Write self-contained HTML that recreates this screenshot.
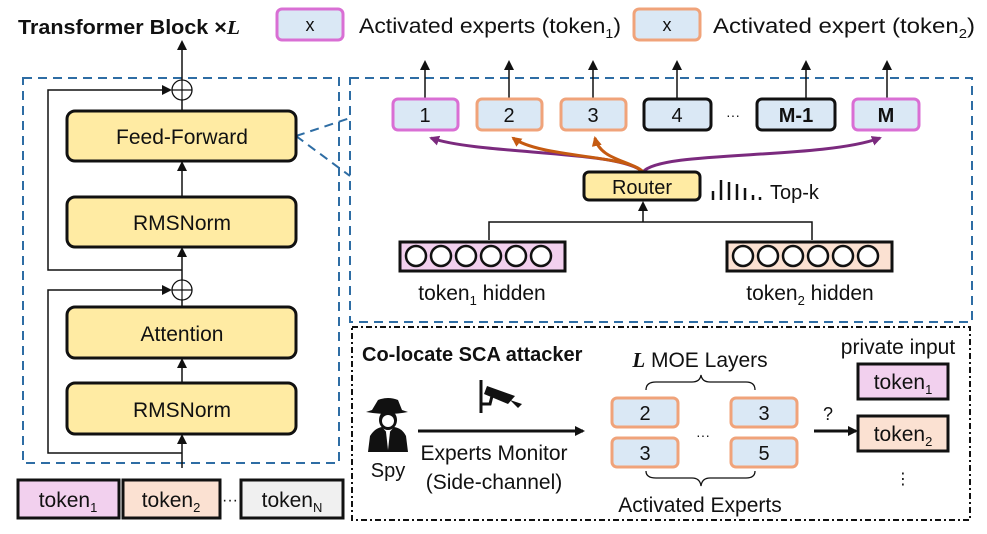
<!DOCTYPE html>
<html><head><meta charset="utf-8"><style>
html,body{margin:0;padding:0;background:#fff}
svg{display:block}
text{font-family:"Liberation Sans","DejaVu Sans",sans-serif;fill:#111}
</style></head><body>
<svg width="987" height="534" viewBox="0 0 987 534" xmlns="http://www.w3.org/2000/svg">
<defs>
<marker id="ah" markerWidth="10" markerHeight="10" refX="8" refY="5" orient="auto" markerUnits="userSpaceOnUse"><path d="M0,0 L10,5 L0,10 z" fill="#111"/></marker>
<marker id="ap" markerWidth="10" markerHeight="10" refX="8" refY="5" orient="auto" markerUnits="userSpaceOnUse"><path d="M0,0 L10,5 L0,10 z" fill="#7B2A7E"/></marker>
<marker id="ao" markerWidth="10" markerHeight="10" refX="8" refY="5" orient="auto" markerUnits="userSpaceOnUse"><path d="M0,0 L10,5 L0,10 z" fill="#C55A11"/></marker>
</defs>

<text x="18" y="34" font-size="20" font-weight="bold" textLength="222" lengthAdjust="spacingAndGlyphs">Transformer Block ×<tspan font-family="Liberation Serif" font-style="italic">L</tspan></text>

<rect x="277" y="9" width="66" height="31" rx="5" fill="#DAE8F5" stroke="#D96FD4" stroke-width="3"/>
<text x="310" y="31" font-size="18" text-anchor="middle">x</text>
<text x="359" y="33" font-size="21" textLength="262" lengthAdjust="spacingAndGlyphs">Activated experts (token<tspan font-size="13" dy="5">1</tspan><tspan dy="-5">)</tspan></text>
<rect x="634" y="9" width="66" height="31" rx="5" fill="#DAE8F5" stroke="#F0A37A" stroke-width="3"/>
<text x="667" y="31" font-size="18" text-anchor="middle">x</text>
<text x="713" y="33" font-size="21" textLength="262" lengthAdjust="spacingAndGlyphs">Activated expert (token<tspan font-size="13" dy="5">2</tspan><tspan dy="-5">)</tspan></text>

<rect x="23" y="78" width="316" height="385" fill="none" stroke="#2E6DA4" stroke-width="2" stroke-dasharray="9,6"/>
<rect x="350" y="78" width="622" height="244" fill="none" stroke="#2E6DA4" stroke-width="2" stroke-dasharray="9,6"/>
<line x1="296" y1="136" x2="350" y2="118" stroke="#2E6DA4" stroke-width="2" stroke-dasharray="9,6"/>
<line x1="296" y1="136" x2="350" y2="176" stroke="#2E6DA4" stroke-width="2" stroke-dasharray="9,6"/>

<line x1="182" y1="80" x2="182" y2="42" stroke="#111" stroke-width="1.5" marker-end="url(#ah)"/>
<circle cx="182" cy="90" r="10" fill="#fff" stroke="#111" stroke-width="1.3"/>
<line x1="172" y1="90" x2="192" y2="90" stroke="#111" stroke-width="1.2"/>
<line x1="182" y1="80" x2="182" y2="100" stroke="#111" stroke-width="1.2"/>
<line x1="182" y1="100" x2="182" y2="111" stroke="#111" stroke-width="1.5"/>
<rect x="67" y="111" width="229" height="50" rx="8" fill="#FFEBA3" stroke="#111" stroke-width="3"/>
<text x="182" y="144" font-size="21" text-anchor="middle">Feed-Forward</text>
<line x1="182" y1="197" x2="182" y2="163" stroke="#111" stroke-width="1.5" marker-end="url(#ah)"/>
<rect x="67" y="197" width="229" height="50" rx="8" fill="#FFEBA3" stroke="#111" stroke-width="3"/>
<text x="182" y="230" font-size="21" text-anchor="middle">RMSNorm</text>
<line x1="182" y1="280" x2="182" y2="249" stroke="#111" stroke-width="1.5" marker-end="url(#ah)"/>
<polyline points="182,270 48,270 48,90 170,90" fill="none" stroke="#111" stroke-width="1.5" marker-end="url(#ah)"/>
<circle cx="182" cy="290" r="10" fill="#fff" stroke="#111" stroke-width="1.3"/>
<line x1="172" y1="290" x2="192" y2="290" stroke="#111" stroke-width="1.2"/>
<line x1="182" y1="280" x2="182" y2="300" stroke="#111" stroke-width="1.2"/>
<line x1="182" y1="300" x2="182" y2="307" stroke="#111" stroke-width="1.5"/>
<rect x="67" y="307" width="229" height="51" rx="8" fill="#FFEBA3" stroke="#111" stroke-width="3"/>
<text x="182" y="341" font-size="21" text-anchor="middle">Attention</text>
<line x1="182" y1="383" x2="182" y2="360" stroke="#111" stroke-width="1.5" marker-end="url(#ah)"/>
<rect x="67" y="383" width="229" height="51" rx="8" fill="#FFEBA3" stroke="#111" stroke-width="3"/>
<text x="182" y="417" font-size="21" text-anchor="middle">RMSNorm</text>
<line x1="182" y1="468" x2="182" y2="436" stroke="#111" stroke-width="1.5" marker-end="url(#ah)"/>
<polyline points="182,453 48,453 48,290 170,290" fill="none" stroke="#111" stroke-width="1.5" marker-end="url(#ah)"/>

<rect x="18" y="480" width="101" height="38" fill="#F2D0EE" stroke="#111" stroke-width="3"/>
<text x="68" y="507" font-size="21" text-anchor="middle">token<tspan font-size="13" dy="5">1</tspan></text>
<rect x="123" y="480" width="97" height="38" fill="#FBE1D2" stroke="#111" stroke-width="3"/>
<text x="171" y="507" font-size="21" text-anchor="middle">token<tspan font-size="13" dy="5">2</tspan></text>
<text x="230" y="505" font-size="16" text-anchor="middle">···</text>
<rect x="241" y="480" width="102" height="38" fill="#F0F0F0" stroke="#111" stroke-width="3"/>
<text x="292" y="507" font-size="21" text-anchor="middle">token<tspan font-size="13" dy="5">N</tspan></text>

<g stroke="#111" stroke-width="1.5">
<line x1="425" y1="98" x2="425" y2="62" marker-end="url(#ah)"/>
<line x1="509" y1="98" x2="509" y2="62" marker-end="url(#ah)"/>
<line x1="593" y1="98" x2="593" y2="62" marker-end="url(#ah)"/>
<line x1="677" y1="98" x2="677" y2="62" marker-end="url(#ah)"/>
<line x1="806" y1="98" x2="806" y2="62" marker-end="url(#ah)"/>
<line x1="887" y1="98" x2="887" y2="62" marker-end="url(#ah)"/>
</g>
<rect x="393" y="99" width="65" height="31" rx="5" fill="#DAE8F5" stroke="#D96FD4" stroke-width="3"/>
<text x="425" y="122" font-size="20" text-anchor="middle">1</text>
<rect x="477" y="99" width="65" height="31" rx="5" fill="#DAE8F5" stroke="#F0A37A" stroke-width="3"/>
<text x="509" y="122" font-size="20" text-anchor="middle">2</text>
<rect x="561" y="99" width="65" height="31" rx="5" fill="#DAE8F5" stroke="#F0A37A" stroke-width="3"/>
<text x="593" y="122" font-size="20" text-anchor="middle">3</text>
<rect x="644" y="99" width="67" height="31" rx="5" fill="#DAE8F5" stroke="#111" stroke-width="3"/>
<text x="677" y="122" font-size="20" text-anchor="middle">4</text>
<text x="733" y="120" font-size="14" text-anchor="middle">···</text>
<rect x="757" y="99" width="78" height="31" rx="5" fill="#DAE8F5" stroke="#111" stroke-width="3"/>
<text x="796" y="122" font-size="20" font-weight="bold" text-anchor="middle">M-1</text>
<rect x="853" y="99" width="66" height="31" rx="5" fill="#DAE8F5" stroke="#D96FD4" stroke-width="3"/>
<text x="886" y="122" font-size="20" font-weight="bold" text-anchor="middle">M</text>

<path d="M643,172 C620,150 480,155 431,138" fill="none" stroke="#7B2A7E" stroke-width="3" marker-end="url(#ap)"/>
<path d="M643,172 C660,150 820,160 880,138" fill="none" stroke="#7B2A7E" stroke-width="3" marker-end="url(#ap)"/>
<path d="M643,172 C630,155 540,158 513,138" fill="none" stroke="#C55A11" stroke-width="3" marker-end="url(#ao)"/>
<path d="M643,172 C630,160 600,160 595,138" fill="none" stroke="#C55A11" stroke-width="3" marker-end="url(#ao)"/>

<rect x="584" y="172" width="116" height="28" rx="5" fill="#FFEBA3" stroke="#111" stroke-width="3"/>
<text x="642" y="194" font-size="20" text-anchor="middle">Router</text>
<g stroke="#111" stroke-width="2.5">
<line x1="713" y1="200" x2="713" y2="191"/><line x1="721" y1="200" x2="721" y2="180"/><line x1="729" y1="200" x2="729" y2="182"/><line x1="737" y1="200" x2="737" y2="184"/><line x1="745" y1="200" x2="745" y2="188"/><line x1="753" y1="200" x2="753" y2="195"/><line x1="760" y1="200" x2="760" y2="197"/>
</g>
<text x="770" y="199" font-size="20">Top-k</text>

<polyline points="489,240 489,222 812,222 812,240" fill="none" stroke="#111" stroke-width="1.5"/>
<line x1="643" y1="222" x2="643" y2="203" stroke="#111" stroke-width="1.5" marker-end="url(#ah)"/>
<rect x="400" y="242" width="165" height="29" fill="#F2D0EE" stroke="#111" stroke-width="3"/>
<rect x="727" y="242" width="165" height="29" fill="#FBE1D2" stroke="#111" stroke-width="3"/>
<g fill="#fff" stroke="#111" stroke-width="2.5">
<circle cx="416" cy="256" r="10"/><circle cx="441" cy="256" r="10"/><circle cx="466" cy="256" r="10"/><circle cx="491" cy="256" r="10"/><circle cx="516" cy="256" r="10"/><circle cx="541" cy="256" r="10"/>
<circle cx="743" cy="256" r="10"/><circle cx="768" cy="256" r="10"/><circle cx="793" cy="256" r="10"/><circle cx="818" cy="256" r="10"/><circle cx="843" cy="256" r="10"/><circle cx="868" cy="256" r="10"/>
</g>
<text x="482" y="300" font-size="21" text-anchor="middle">token<tspan font-size="13" dy="5">1</tspan><tspan dy="-5"> hidden</tspan></text>
<text x="810" y="300" font-size="21" text-anchor="middle">token<tspan font-size="13" dy="5">2</tspan><tspan dy="-5"> hidden</tspan></text>

<rect x="352" y="327" width="618" height="193" fill="none" stroke="#111" stroke-width="2" stroke-dasharray="6,3,2,3"/>
<text x="362" y="361" font-size="20" font-weight="bold">Co-locate SCA attacker</text>

<g fill="#111">
<path d="M372,410 L378,400 Q388,396 398,400 L402,410 L408,412 Q388,416 366,412 z"/>
<ellipse cx="388" cy="420" rx="9" ry="10"/>
<path d="M368,452 L370,436 Q375,428 382,427 L388,434 L394,427 Q402,428 406,436 L408,452 z"/>
</g>
<ellipse cx="388" cy="421" rx="6" ry="6" fill="#fff"/>
<path d="M386,432 L388,450 L390,432 z" fill="#fff"/>
<text x="388" y="477" font-size="20" text-anchor="middle">Spy</text>

<line x1="481" y1="380" x2="481" y2="413" stroke="#111" stroke-width="3"/>
<path d="M481,404 L490,404 L492,396" fill="none" stroke="#111" stroke-width="3"/>
<path d="M487,386 L515,396 L508,404 L484,394 z" fill="#111"/>
<path d="M510,400 L522,404 L518,408 z" fill="#111"/>

<line x1="418" y1="431" x2="583" y2="431" stroke="#111" stroke-width="3" marker-end="url(#ah)"/>
<text x="494" y="460" font-size="21" text-anchor="middle">Experts Monitor</text>
<text x="494" y="489" font-size="21" text-anchor="middle">(Side-channel)</text>

<text x="700" y="367" font-size="21" text-anchor="middle"><tspan font-family="Liberation Serif" font-style="italic" font-weight="bold">L</tspan> MOE Layers</text>
<path d="M646,390 Q646,382 656,382 L692,382 Q700,382 701,375 Q702,382 710,382 L746,382 Q755,382 755,390" fill="none" stroke="#111" stroke-width="1.3"/>
<rect x="612" y="398" width="66" height="29" rx="5" fill="#DAE8F5" stroke="#F0A37A" stroke-width="3"/>
<text x="645" y="420" font-size="20" text-anchor="middle">2</text>
<rect x="731" y="398" width="66" height="29" rx="5" fill="#DAE8F5" stroke="#F0A37A" stroke-width="3"/>
<text x="764" y="420" font-size="20" text-anchor="middle">3</text>
<rect x="612" y="438" width="66" height="29" rx="5" fill="#DAE8F5" stroke="#F0A37A" stroke-width="3"/>
<text x="645" y="460" font-size="20" text-anchor="middle">3</text>
<rect x="731" y="438" width="66" height="29" rx="5" fill="#DAE8F5" stroke="#F0A37A" stroke-width="3"/>
<text x="764" y="460" font-size="20" text-anchor="middle">5</text>
<text x="703" y="440" font-size="14" text-anchor="middle">···</text>
<path d="M646,471 Q646,478 656,478 L692,478 Q700,478 701,486 Q702,478 710,478 L746,478 Q755,478 755,471" fill="none" stroke="#111" stroke-width="1.3"/>
<text x="700" y="512" font-size="21" text-anchor="middle">Activated Experts</text>

<text x="823" y="420" font-size="18">?</text>
<line x1="814" y1="431" x2="856" y2="431" stroke="#111" stroke-width="3" marker-end="url(#ah)"/>
<text x="898" y="354" font-size="21" text-anchor="middle">private input</text>
<rect x="858" y="364" width="90" height="35" fill="#F2D0EE" stroke="#111" stroke-width="3"/>
<text x="903" y="389" font-size="21" text-anchor="middle">token<tspan font-size="13" dy="5">1</tspan></text>
<rect x="858" y="416" width="90" height="35" fill="#FBE1D2" stroke="#111" stroke-width="3"/>
<text x="903" y="441" font-size="21" text-anchor="middle">token<tspan font-size="13" dy="5">2</tspan></text>
<text x="903" y="484" font-size="16" text-anchor="middle">⋮</text>
</svg>
</body></html>
